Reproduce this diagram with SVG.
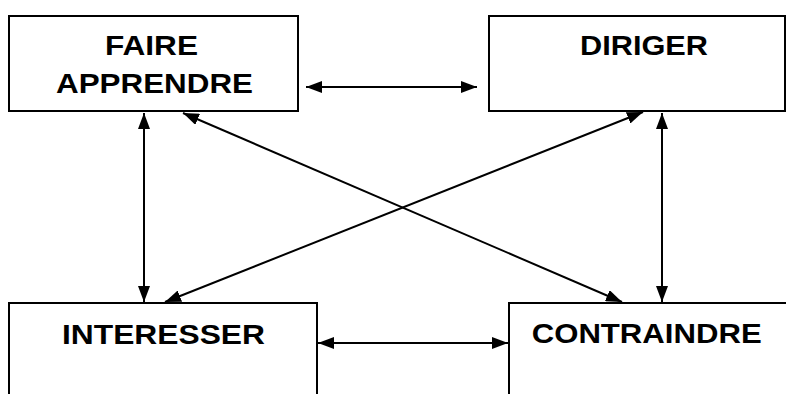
<svg xmlns="http://www.w3.org/2000/svg" width="786" height="394" viewBox="0 0 786 394">
<defs>
<marker id="ah" viewBox="0 0 16 12" refX="16" refY="6" markerWidth="16" markerHeight="12" markerUnits="userSpaceOnUse" orient="auto-start-reverse">
<path d="M0,0 L16,6 L0,12 Z" fill="#000"/>
</marker>
<style>
.box{fill:#fff;stroke:#000;stroke-width:2}
.t{font-family:"Liberation Sans",Arial,sans-serif;font-weight:bold;font-size:28px;fill:#000;text-anchor:middle}
.c{stroke:#000;stroke-width:2;fill:none;marker-start:url(#ah);marker-end:url(#ah)}
</style>
</defs>
<rect width="786" height="394" fill="#fff"/>
<g id="faire">
<rect class="box" x="9" y="16" width="289" height="95"/>
<text class="t" x="151.5" y="54.5" textLength="93" lengthAdjust="spacingAndGlyphs">FAIRE</text>
<text class="t" x="154.5" y="93" textLength="197" lengthAdjust="spacingAndGlyphs">APPRENDRE</text>
</g>
<g id="diriger">
<rect class="box" x="489" y="16" width="296" height="95"/>
<text class="t" x="644" y="55" textLength="128" lengthAdjust="spacingAndGlyphs">DIRIGER</text>
</g>
<g id="interesser">
<rect class="box" x="9" y="303" width="308" height="100"/>
<text class="t" x="163.5" y="344" textLength="203" lengthAdjust="spacingAndGlyphs">INTERESSER</text>
</g>
<g id="contraindre">
<rect class="box" x="509" y="303" width="290" height="100"/>
<text class="t" x="646.7" y="343" textLength="230" lengthAdjust="spacingAndGlyphs">CONTRAINDRE</text>
</g>
<g id="connectors">
<line class="c" x1="306" y1="87" x2="477" y2="87"/>
<line class="c" x1="318" y1="343" x2="508" y2="343"/>
<line class="c" x1="144" y1="113" x2="144" y2="302"/>
<line class="c" x1="662" y1="113" x2="662" y2="302"/>
<line class="c" x1="183" y1="113" x2="622" y2="302"/>
<line class="c" x1="643" y1="112" x2="165" y2="302"/>
</g>
</svg>
